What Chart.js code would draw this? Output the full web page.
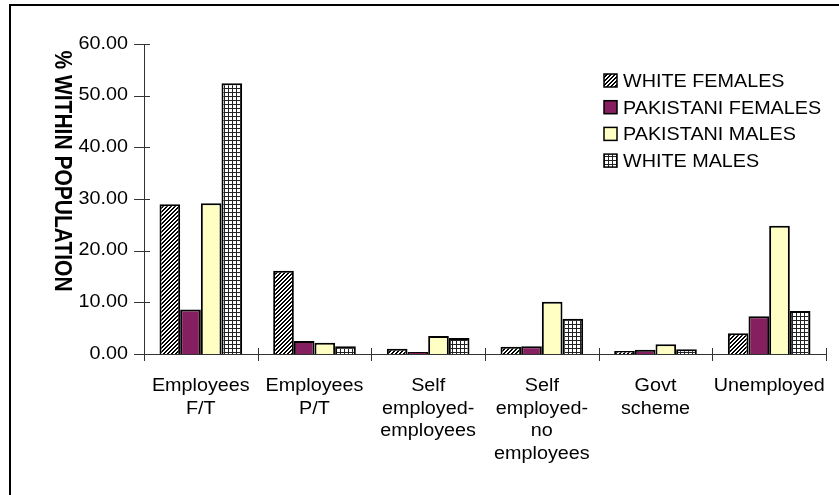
<!DOCTYPE html>
<html>
<head>
<meta charset="utf-8">
<script src="https://cdn.jsdelivr.net/npm/chart.js@4"></script>
<style>
  body { margin: 0; background: #fff; }
  canvas { display: block; }
</style>
</head>
<body>
<canvas id="myChart" width="839" height="495"></canvas>
<script>
'use strict';

// data
const categories = [
  ['Employees', 'F/T'],
  ['Employees', 'P/T'],
  ['Self', 'employed-', 'employees'],
  ['Self', 'employed-', 'no', 'employees'],
  ['Govt', 'scheme'],
  ['Unemployed']
];
const seriesNames = ['WHITE FEMALES', 'PAKISTANI FEMALES', 'PAKISTANI MALES', 'WHITE MALES'];
const whiteFemales = [29.0, 16.1, 1.0, 1.4, 0.6, 4.0];
const pakistaniFemales = [8.6, 2.5, 0.4, 1.5, 0.8, 7.3];
const pakistaniMales = [29.2, 2.2, 3.5, 10.1, 1.9, 24.8];
const whiteMales = [52.4, 1.5, 3.1, 6.8, 0.9, 8.3];
const yMin = 0, yMax = 60, yStep = 10;
const yTitle = '% WITHIN POPULATION';

const FONT = '"Liberation Sans", Arial, sans-serif';
const SX = 1.13; // the original text looks a bit wide

function hatchPattern() {
  const c = document.createElement('canvas');
  c.width = 4; c.height = 4;
  const g = c.getContext('2d');
  g.fillStyle = '#fff';
  g.fillRect(0, 0, 4, 4);
  g.fillStyle = '#000';
  for (let x = 0; x < 4; x++) {
    for (let y = 0; y < 4; y++) {
      if ((x + y) % 4 < 2) g.fillRect(x, y, 1, 1);
    }
  }
  return g.createPattern(c, 'repeat');
}

function gridPattern() {
  const c = document.createElement('canvas');
  c.width = 4; c.height = 4;
  const g = c.getContext('2d');
  g.fillStyle = '#fff';
  g.fillRect(0, 0, 4, 4);
  g.fillStyle = '#222';
  g.fillRect(0, 0, 4, 1);
  g.fillRect(0, 0, 1, 4);
  return g.createPattern(c, 'repeat');
}

const fills = [hatchPattern(), '#861f5f', '#ffffc4', gridPattern()];
const values = [whiteFemales, pakistaniFemales, pakistaniMales, whiteMales];

function wideText(ctx, s, x, y, align) {
  ctx.save();
  ctx.translate(x, y);
  ctx.scale(SX, 1);
  ctx.textAlign = align;
  ctx.fillText(s, 0, 0);
  ctx.restore();
}

const frame = {
  id: 'frame',
  beforeDraw(chart) {
    const ctx = chart.ctx;
    ctx.save();
    ctx.fillStyle = '#fff';
    ctx.fillRect(0, 0, chart.width, chart.height);
    ctx.fillStyle = '#000';
    ctx.fillRect(9, 4, chart.width - 9, 2);
    ctx.fillRect(9, 4, 2, chart.height - 4);
    ctx.restore();
  }
};

const extras = {
  id: 'extras',
  afterDraw(chart) {
    const ctx = chart.ctx;
    const x = chart.scales.x;
    const y = chart.scales.y;
    ctx.save();
    ctx.strokeStyle = '#333';
    ctx.lineWidth = 1;

    // y tick marks crossing the axis
    ctx.beginPath();
    y.ticks.forEach(t => {
      const py = Math.round(y.getPixelForValue(t.value)) + 0.5;
      ctx.moveTo(y.right - 10, py);
      ctx.lineTo(y.right + 6, py);
    });
    // x tick marks at category boundaries
    const n = categories.length;
    for (let i = 0; i <= n; i++) {
      const px = Math.round(x.left + i * x.width / n) + 0.5;
      ctx.moveTo(px, x.top - 6);
      ctx.lineTo(px, x.top + 7);
    }
    ctx.stroke();

    ctx.fillStyle = '#000';
    ctx.font = '17.5px ' + FONT;
    ctx.textBaseline = 'middle';
    y.ticks.forEach(t => {
      wideText(ctx, t.value.toFixed(2), y.right - 16, y.getPixelForValue(t.value), 'right');
    });

    ctx.textBaseline = 'alphabetic';
    categories.forEach((lines, i) => {
      const cx = x.getPixelForValue(i);
      lines.forEach((s, j) => {
        wideText(ctx, s, cx, x.top + 37 + j * 22.5, 'center');
      });
    });

    // axis title, turned clockwise
    ctx.save();
    ctx.translate(55, 171);
    ctx.rotate(Math.PI / 2);
    ctx.scale(1, SX);
    ctx.font = 'bold 21px ' + FONT;
    ctx.textAlign = 'center';
    ctx.fillText(yTitle, 0, 0);
    ctx.restore();

    // legend inside the plot
    ctx.font = '17.5px ' + FONT;
    chart.data.datasets.forEach((ds, k) => {
      const by = 74 + k * 26.7;
      ctx.fillStyle = ds.backgroundColor;
      ctx.fillRect(604, by, 13, 13);
      ctx.strokeStyle = '#000';
      ctx.lineWidth = 1.5;
      ctx.strokeRect(604, by, 13, 13);
      ctx.fillStyle = '#000';
      wideText(ctx, ds.label, 623, by + 13, 'left');
    });
    ctx.restore();
  }
};

const ctx = document.getElementById('myChart').getContext('2d');
const myChart = new Chart(ctx, {
  type: 'bar',
  data: {
    labels: categories,
    datasets: seriesNames.map((name, k) => ({
      label: name,
      data: values[k],
      backgroundColor: fills[k],
      borderColor: '#000',
      borderWidth: 2,
      categoryPercentage: 0.727,
      barPercentage: 1.0
    }))
  },
  options: {
    responsive: false,
    animation: false,
    layout: { padding: { top: 44, right: 13, left: 0, bottom: 0 } },
    plugins: { legend: { display: false }, tooltip: { enabled: false } },
    scales: {
      x: {
        grid: { display: false },
        border: { display: true, color: '#333', width: 1 },
        ticks: { display: false },
        afterFit: s => { s.height = 141; }
      },
      y: {
        min: yMin,
        max: yMax,
        grid: { display: false },
        border: { display: true, color: '#333', width: 1 },
        ticks: { display: false, stepSize: yStep },
        afterFit: s => { s.width = 144; }
      }
    }
  },
  plugins: [frame, extras]
});
</script>
</body>
</html>
